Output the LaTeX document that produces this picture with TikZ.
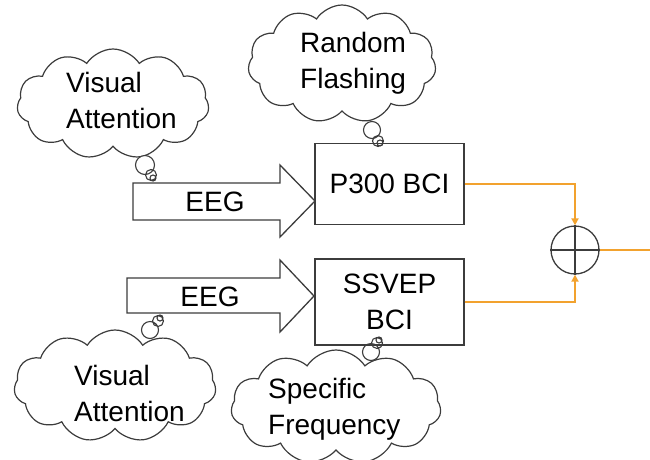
\documentclass[tikz,border=0pt]{standalone}
\usepackage{fontspec}
\setmainfont{Liberation Sans}
\usetikzlibrary{shapes.symbols,arrows.meta}
\definecolor{ink}{RGB}{60,60,60}
\definecolor{sig}{RGB}{242,162,46}
\tikzset{
  thought/.style={cloud, draw=ink, line width=1.2pt, cloud puffs=11, cloud puff arc=115, inner sep=0pt},
  bubble/.style={draw=ink, line width=1.1pt, fill=white},
  blocktext/.style={font=\fontsize{28}{36}\selectfont, inner sep=0pt, align=left, anchor=west},
  bci/.style={draw=ink, line width=1.3pt, font=\fontsize{28}{36}\selectfont, align=center, inner sep=0pt},
  bigarrow/.style={draw=ink, line width=1.3pt, fill=white, line join=miter},
  sigline/.style={draw=sig, line width=2pt, -{Triangle[length=7pt,width=7pt]}}
}
\begin{document}
\begin{tikzpicture}[x=1pt,y=-1pt]
\useasboundingbox (0,0) rectangle (650,459);

% thought clouds
\node[thought, minimum width=192pt, minimum height=110pt] (va1cloud) at (113,104) {};
\node[thought, minimum width=188pt, minimum height=118pt] (rfcloud) at (342,64) {};
\node[thought, minimum width=202pt, minimum height=112pt] (va2cloud) at (115,386) {};
\node[thought, minimum width=210pt, minimum height=114pt] (sfcloud) at (336,407) {};

% callout bubbles
\path[bubble] (145,165) circle (9.5) (151,175) circle (5.5) (153,178) circle (3);
\path[bubble] (372,130) circle (8.5) (378,141) circle (5.5) (380,143) circle (3);
\path[bubble] (150,330) circle (8.5) (158,321) circle (5.5) (160,318) circle (3);
\path[bubble] (371,352) circle (8.5) (377,343) circle (5.5) (379,340) circle (3);

% cloud texts
\node[blocktext] (va1) at (66,100) {Visual\\Attention};
\node[blocktext] (rf) at (300,63) {Random\\Flashing};
\node[blocktext] (va2) at (74,393) {Visual\\Attention};
\node[blocktext] (sf) at (268,409) {Specific\\Frequency};

% EEG block arrows
\path[bigarrow] (133,183) -- (280,183) -- (280,165) -- (315,201) -- (280,237) -- (280,220) -- (133,220) -- cycle;
\node[font=\fontsize{28}{36}\selectfont, inner sep=0pt] (eeg1) at (215,202) {EEG};
\path[bigarrow] (127,278) -- (280,278) -- (280,260) -- (314,296) -- (280,332) -- (280,313) -- (127,313) -- cycle;
\node[font=\fontsize{28}{36}\selectfont, inner sep=0pt] (eeg2) at (210,297) {EEG};

% BCI blocks
\node[bci, minimum width=149pt, minimum height=81pt] (p300) at (389.5,184) {P300 BCI};
\node[bci, minimum width=149pt, minimum height=86pt] (ssvep) at (389.5,302) {SSVEP\\BCI};

% summing junction
\node[draw=ink, line width=1.3pt, circle, minimum size=48pt, inner sep=0pt] (sum) at (575,250) {};
\draw[ink, line width=1.3pt] (sum.north) -- (sum.south) (sum.west) -- (sum.east);

% signal paths
\draw[sigline] (p300.east) -| (sum.north);
\draw[sigline] (ssvep.east) -| (sum.south);
\coordinate (out) at (650,250);
\draw[draw=sig, line width=2pt] (sum.east) -- (out);
\end{tikzpicture}
\end{document}
